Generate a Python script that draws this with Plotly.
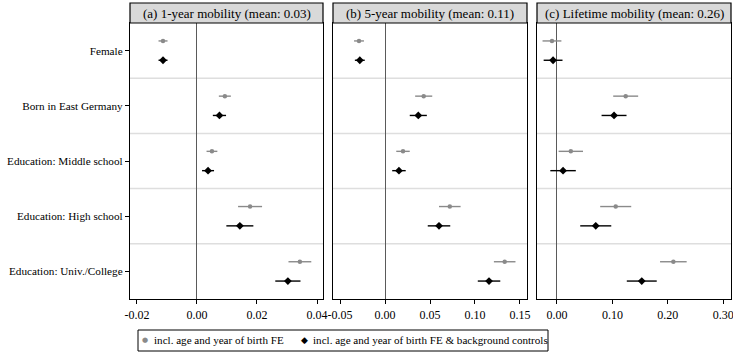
import plotly.graph_objects as go
from plotly.subplots import make_subplots

categories = ["Female", "Born in East Germany", "Education: Middle school",
              "Education: High school", "Education: Univ./College"]
panel_titles = ["(a) 1-year mobility (mean: 0.03)",
                "(b) 5-year mobility (mean: 0.11)",
                "(c) Lifetime mobility (mean: 0.26)"]
series_names = ["incl. age and year of birth FE",
                "incl. age and year of birth FE & background controls"]

# panel (a)
a_base = [-0.0113, 0.0093, 0.0050, 0.0177, 0.0343]
a_base_ci = [0.0015, 0.0020, 0.0018, 0.0040, 0.0038]
a_ctrl = [-0.0113, 0.0075, 0.0037, 0.0143, 0.0303]
a_ctrl_ci = [0.0015, 0.0022, 0.0020, 0.0045, 0.0042]
# panel (b)
b_base = [-0.0289, 0.0430, 0.0200, 0.0720, 0.1330]
b_base_ci = [0.0055, 0.0095, 0.0075, 0.0120, 0.0120]
b_ctrl = [-0.0280, 0.0370, 0.0155, 0.0600, 0.1156]
b_ctrl_ci = [0.0055, 0.0095, 0.0075, 0.0125, 0.0125]
# panel (c)
c_base = [-0.0090, 0.1240, 0.0250, 0.1060, 0.2100]
c_base_ci = [0.0170, 0.0225, 0.0220, 0.0280, 0.0240]
c_ctrl = [-0.0070, 0.1030, 0.0110, 0.0700, 0.1530]
c_ctrl_ci = [0.0170, 0.0225, 0.0230, 0.0280, 0.0270]

x_ranges = [[-0.0223, 0.0420], [-0.0578, 0.1578], [-0.036, 0.314]]
x_ticks = [[-0.02, 0.00, 0.02, 0.04], [-0.05, 0.00, 0.05, 0.10, 0.15],
           [0.00, 0.10, 0.20, 0.30]]

panels = [(a_base, a_base_ci, a_ctrl, a_ctrl_ci),
          (b_base, b_base_ci, b_ctrl, b_ctrl_ci),
          (c_base, c_base_ci, c_ctrl, c_ctrl_ci)]

FONT = "Liberation Serif"
GRAY = "#8a8a8a"
offset = 0.175
ypos = list(range(len(categories)))

fig = make_subplots(rows=1, cols=3, shared_yaxes=True, horizontal_spacing=0.02)

for i, (bv, bc, cv, cc) in enumerate(panels):
    col = i + 1
    fig.add_trace(go.Scatter(
        x=bv, y=[y - offset for y in ypos], mode="markers",
        marker=dict(symbol="circle", size=4.5, color=GRAY),
        error_x=dict(type="data", array=bc, color=GRAY, thickness=1.4, width=0),
        name=series_names[0], showlegend=False),
        row=1, col=col)
    fig.add_trace(go.Scatter(
        x=cv, y=[y + offset for y in ypos], mode="markers",
        marker=dict(symbol="diamond", size=6, color="black"),
        error_x=dict(type="data", array=cc, color="black", thickness=1.4, width=0),
        name=series_names[1], showlegend=False),
        row=1, col=col)

W, H = 733, 353
ml, mr, mt, mb = 130, 2, 23, 54
pw = W - ml - mr
ph = H - mt - mb
domains = [[0, 193 / pw], [(333 - ml) / pw, (527 - ml) / pw], [(537 - ml) / pw, 1]]

def px_x(px):
    return (px - ml) / pw

def px_y(py):
    return (H - mb - py) / ph

for i in range(3):
    xa = "xaxis" if i == 0 else f"xaxis{i+1}"
    fig.layout[xa].update(
        domain=domains[i], range=x_ranges[i], tickvals=x_ticks[i],
        ticktext=[f"{t:.2f}" for t in x_ticks[i]],
        showgrid=False, zeroline=True, zerolinecolor="#5a5a5a", zerolinewidth=1.2,
        showline=True, mirror=True, linecolor="black", linewidth=1.2,
        ticks="outside", ticklen=4, tickcolor="black", ticklabeloverflow="allow",
        tickfont=dict(family=FONT, size=12, color="black"))
    ya = "yaxis" if i == 0 else f"yaxis{i+1}"
    fig.layout[ya].update(
        range=[4.5, -0.5], showgrid=False, zeroline=False,
        showline=True, mirror=True, linecolor="black", linewidth=1.2,
        tickvals=ypos, ticktext=categories if i == 0 else None,
        showticklabels=(i == 0), ticklabeloverflow="allow",
        ticks="outside" if i == 0 else "", ticklen=4, tickcolor="black",
        tickfont=dict(family=FONT, size=11.2, color="black"))
    xref = "x domain" if i == 0 else f"x{i+1} domain"
    yref = "y" if i == 0 else f"y{i+1}"
    for sep in [0.5, 1.5, 2.5, 3.5]:
        fig.add_shape(type="line", xref=xref, yref=yref, x0=0, x1=1, y0=sep, y1=sep,
                      line=dict(color="#dedede", width=1.5), layer="below")
    strip_h = 20 / ph
    fig.add_shape(type="rect", xref=xref, yref="paper", x0=0, x1=1, y0=1, y1=1 + strip_h,
                  fillcolor="#d9d9d9", line=dict(color="black", width=1.2))
    fig.add_annotation(text=panel_titles[i], xref=xref, yref="paper", x=0.5,
                       y=1 + strip_h / 2, showarrow=False, xanchor="center", yanchor="middle",
                       font=dict(family=FONT, size=13, color="black"))

# legend box (drawn as shapes + text)
fig.add_shape(type="rect", xref="paper", yref="paper",
              x0=px_x(138), x1=px_x(548), y0=px_y(351), y1=px_y(330),
              line=dict(color="black", width=1), fillcolor="white")
fig.add_annotation(text=f"<span style='color:{GRAY}'>●</span>", xref="paper", yref="paper",
                   x=px_x(145), y=px_y(340.5), showarrow=False, xanchor="center", yanchor="middle",
                   font=dict(family="DejaVu Sans", size=7))
fig.add_annotation(text=series_names[0], xref="paper", yref="paper",
                   x=px_x(152), y=px_y(340.5), showarrow=False, xanchor="left", yanchor="middle",
                   font=dict(family=FONT, size=11.1, color="black"))
fig.add_annotation(text="◆", xref="paper", yref="paper",
                   x=px_x(304), y=px_y(340.5), showarrow=False, xanchor="center", yanchor="middle",
                   font=dict(family="DejaVu Sans", size=9, color="black"))
fig.add_annotation(text=series_names[1], xref="paper", yref="paper",
                   x=px_x(311), y=px_y(340.5), showarrow=False, xanchor="left", yanchor="middle",
                   font=dict(family=FONT, size=11.1, color="black"))

fig.update_layout(
    width=W, height=H, margin=dict(l=ml, r=mr, t=mt, b=mb, autoexpand=False),
    paper_bgcolor="white", plot_bgcolor="white",
    font=dict(family=FONT, size=12, color="black"),
    showlegend=False,
)

fig.write_html("out.html")
